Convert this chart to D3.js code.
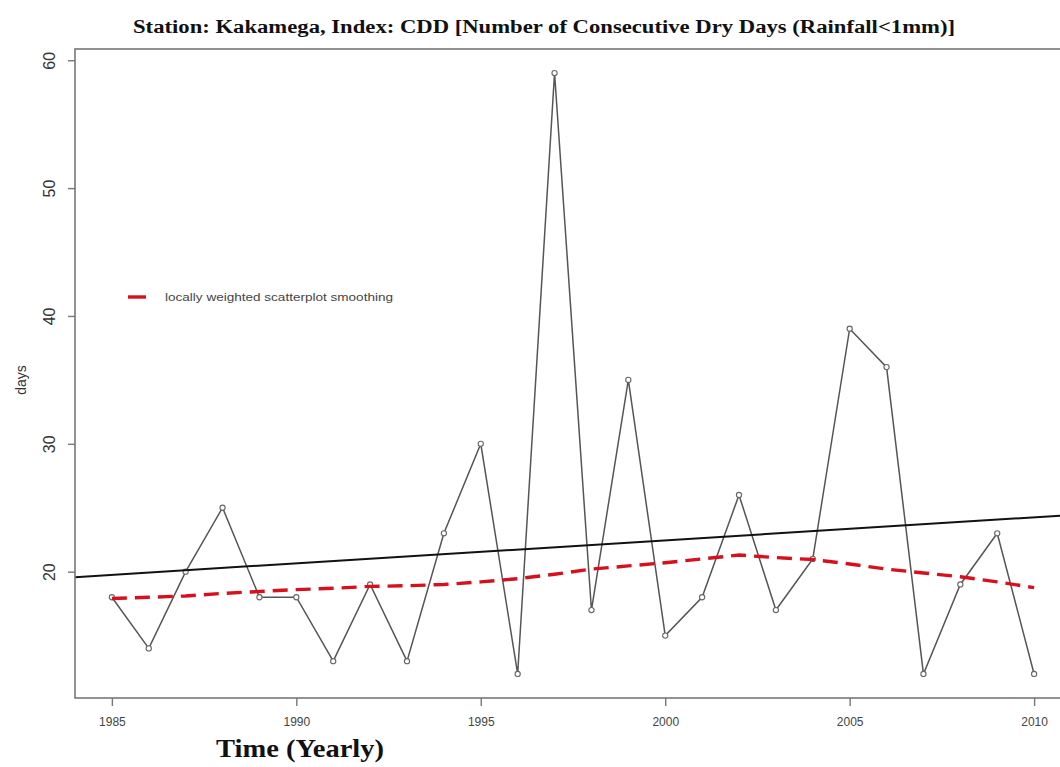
<!DOCTYPE html>
<html>
<head>
<meta charset="utf-8">
<script src="https://cdn.jsdelivr.net/npm/d3@7"></script>
<style>
  html, body { margin: 0; padding: 0; background: #fff; }
  svg { display: block; }
</style>
</head>
<body>
<svg id="chart" width="1060" height="767"></svg>
<script>
// Annual CDD index for Kakamega station
const years = [1985, 1986, 1987, 1988, 1989, 1990, 1991, 1992, 1993, 1994, 1995, 1996, 1997,
               1998, 1999, 2000, 2001, 2002, 2003, 2004, 2005, 2006, 2007, 2008, 2009, 2010];
const cddDays = [18, 14, 20, 25, 18, 18, 13, 19, 13, 23, 30, 12, 59,
                 17, 35, 15, 18, 26, 17, 21, 39, 36, 12, 19, 23, 12];
// LOWESS smoothed curve values per year
const lowessDays = [17.9, 18.0, 18.1, 18.3, 18.45, 18.6, 18.7, 18.85, 18.9, 19.0, 19.2, 19.45, 19.8,
                    20.2, 20.45, 20.7, 21.0, 21.3, 21.1, 20.95, 20.6, 20.2, 19.9, 19.6, 19.2, 18.75];
const xTicks = [1985, 1990, 1995, 2000, 2005, 2010];
const yTicks = [20, 30, 40, 50, 60];

const titleText = "Station: Kakamega, Index: CDD [Number of Consecutive Dry Days (Rainfall<1mm)]";
const xLabel = "Time (Yearly)";
const yLabel = "days";
const legendLabel = "locally weighted scatterplot smoothing";

const svg = d3.select("#chart");
svg.append("rect").attr("width", 1060).attr("height", 767).attr("fill", "#fff");

// plot region (domain padded by 4% like base graphics)
const x = d3.scaleLinear().domain([1984, 2011]).range([75, 1071]);
const y = d3.scaleLinear().domain([10.12, 60.88]).range([698, 49]);

// least-squares trend line over the full plot width
const mx = d3.mean(years), my = d3.mean(cddDays);
const sxy = d3.sum(years, (v, i) => (v - mx) * (cddDays[i] - my));
const sxx = d3.sum(years, v => (v - mx) * (v - mx));
const slope = sxy / sxx, intercept = my - slope * mx;

svg.append("clipPath").attr("id", "plotClip")
  .append("rect").attr("x", 75).attr("y", 49).attr("width", 996).attr("height", 649);

const plot = svg.append("g").attr("clip-path", "url(#plotClip)");

// observed series
const lineGen = d3.line().x((d, i) => x(years[i])).y(d => y(d));
plot.append("path")
  .datum(cddDays)
  .attr("d", lineGen)
  .attr("fill", "none")
  .attr("stroke", "#555")
  .attr("stroke-width", 1.5);

plot.selectAll("circle.pt")
  .data(cddDays)
  .join("circle")
  .attr("class", "pt")
  .attr("cx", (d, i) => x(years[i]))
  .attr("cy", d => y(d))
  .attr("r", 2.6)
  .attr("fill", "#fff")
  .attr("stroke", "#666")
  .attr("stroke-width", 1.1);

// linear trend
const xd = x.domain();
plot.append("line")
  .attr("x1", x(xd[0])).attr("y1", y(intercept + slope * xd[0]))
  .attr("x2", x(xd[1])).attr("y2", y(intercept + slope * xd[1]))
  .attr("stroke", "#111")
  .attr("stroke-width", 2);

// lowess curve
plot.append("path")
  .datum(lowessDays)
  .attr("d", d3.line().x((d, i) => x(years[i])).y(d => y(d)))
  .attr("fill", "none")
  .attr("stroke", "#d8101e")
  .attr("stroke-width", 3.4)
  .attr("stroke-dasharray", "15,8");

// frame (right side runs off the canvas)
svg.append("rect")
  .attr("x", 75).attr("y", 49).attr("width", 996).attr("height", 649)
  .attr("fill", "none").attr("stroke", "#777").attr("stroke-width", 1.6);

// x axis
const xAxis = d3.axisBottom(x).tickValues(xTicks).tickFormat(d3.format("d")).tickSize(8).tickPadding(11);
const gx = svg.append("g").attr("transform", "translate(0,698)").call(xAxis);
gx.select(".domain").remove();
gx.selectAll("line").attr("stroke", "#777").attr("stroke-width", 1.4);
gx.selectAll("text")
  .attr("fill", "#444")
  .style("font-family", "'Liberation Sans Narrow', 'Liberation Sans', Arial, sans-serif")
  .style("font-size", "12px");

// y axis with rotated labels
const yAxis = d3.axisLeft(y).tickValues(yTicks).tickFormat(d3.format("d")).tickSize(7).tickPadding(0);
const gy = svg.append("g").attr("transform", "translate(75,0)").call(yAxis);
gy.select(".domain").remove();
gy.selectAll("line").attr("stroke", "#777").attr("stroke-width", 1.4);
gy.selectAll("text")
  .attr("x", null).attr("dy", null)
  .attr("text-anchor", "middle")
  .attr("transform", "translate(-20,0) rotate(-90)")
  .attr("fill", "#333")
  .style("font-family", "'Liberation Sans', Arial, sans-serif")
  .style("font-size", "16px");

// title
svg.append("text")
  .attr("x", 544).attr("y", 33)
  .attr("text-anchor", "middle")
  .attr("textLength", 822).attr("lengthAdjust", "spacingAndGlyphs")
  .style("font-family", "'Liberation Serif', 'Times New Roman', serif")
  .style("font-weight", "bold")
  .style("font-size", "18px")
  .attr("fill", "#111")
  .text(titleText);

// axis titles
svg.append("text")
  .attr("x", 300).attr("y", 757)
  .attr("text-anchor", "middle")
  .attr("textLength", 168).attr("lengthAdjust", "spacingAndGlyphs")
  .style("font-family", "'Liberation Serif', 'Times New Roman', serif")
  .style("font-weight", "bold")
  .style("font-size", "25px")
  .attr("fill", "#111")
  .text(xLabel);

svg.append("text")
  .attr("transform", "translate(26,380) rotate(-90)")
  .attr("text-anchor", "middle")
  .style("font-family", "'Liberation Sans', Arial, sans-serif")
  .style("font-size", "14px")
  .attr("fill", "#333")
  .text(yLabel);

// legend
const lg = svg.append("g");
lg.append("line")
  .attr("x1", 128).attr("x2", 146).attr("y1", 297).attr("y2", 297)
  .attr("stroke", "#d8101e").attr("stroke-width", 3.4);
lg.append("text")
  .attr("x", 165).attr("y", 301)
  .attr("textLength", 228).attr("lengthAdjust", "spacingAndGlyphs")
  .style("font-family", "'Liberation Sans', Arial, sans-serif")
  .style("font-size", "11.5px")
  .attr("fill", "#444")
  .text(legendLabel);
</script>
</body>
</html>
